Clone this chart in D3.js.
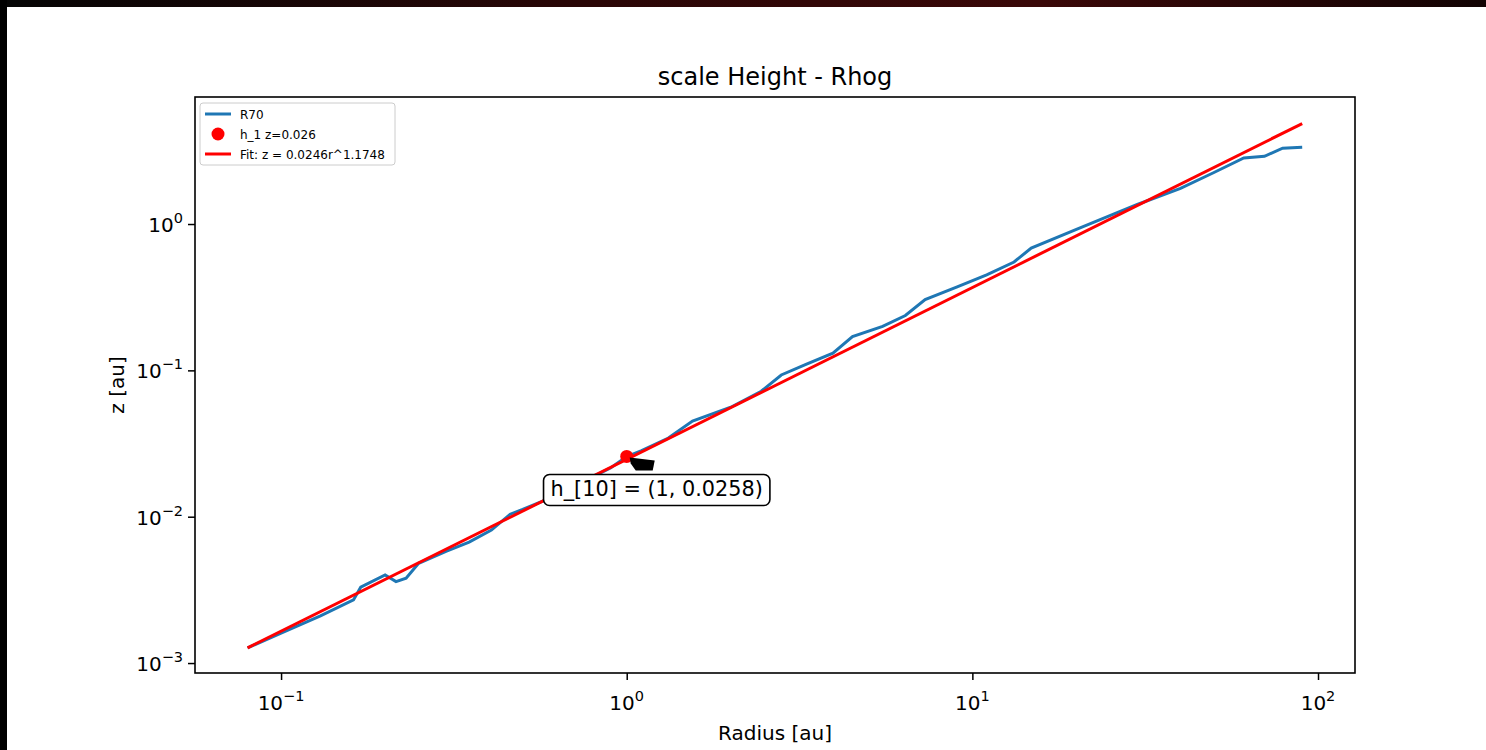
<!DOCTYPE html>
<html>
<head>
<meta charset="utf-8">
<script src="https://cdn.jsdelivr.net/npm/d3@7"></script>
<style>
  body { margin: 0; background: #fff; }
  svg { display: block; }
  text { font-family: "DejaVu Sans", sans-serif; fill: #000; }
</style>
</head>
<body>
<div id="chart"></div>
<script>
// donnees
const radius = [0.08, 0.1, 0.13, 0.162, 0.17, 0.2, 0.215, 0.23, 0.25, 0.3, 0.35, 0.406, 0.46, 0.5, 0.6, 0.7, 0.8, 0.9, 1.0, 1.1, 1.32, 1.55, 2.0, 2.45, 2.8, 3.3, 3.95, 4.5, 5.5, 6.4, 7.3, 9, 11, 13.2, 14.8, 20, 30, 40, 50, 61, 70, 79, 90];
const zR70 = [0.00127, 0.0016, 0.0021, 0.0027, 0.0033, 0.0040, 0.0036, 0.0038, 0.0048, 0.0058, 0.0067, 0.0081, 0.0104, 0.0112, 0.0134, 0.0159, 0.0188, 0.0216, 0.0258, 0.0282, 0.0345, 0.045, 0.056, 0.072, 0.093, 0.11, 0.131, 0.17, 0.2, 0.237, 0.305, 0.37, 0.45, 0.55, 0.685, 0.92, 1.36, 1.75, 2.25, 2.83, 2.9, 3.3, 3.35];
// droite de fit (extremites)
const fitR = [0.08, 90];
const fitZ = [0.00127, 4.86];
// point h_1
const pointR = [1];
const pointZ = [0.0258];
const xTicks = [-1, 0, 1, 2];
const yTicks = [-3, -2, -1, 0];
const legendLabels = ["R70", "h_1 z=0.026", "Fit: z = 0.0246r^1.1748"];

const W = 1486, H = 750;
const margin = {top: 97, right: 131, bottom: 77, left: 195};
const width = W - margin.left - margin.right;
const height = H - margin.top - margin.bottom;
const blue = "#1f77b4", red = "#ff0000";

let svg = d3.select("#chart").append("svg")
    .attr("width", W)
    .attr("height", H);

// cadre sombre (photo d'ecran)
let grad = svg.append("defs").append("linearGradient").attr("id", "topband");
grad.append("stop").attr("offset", "0%").attr("stop-color", "#050505");
grad.append("stop").attr("offset", "40%").attr("stop-color", "#2a0606");
grad.append("stop").attr("offset", "70%").attr("stop-color", "#3a0808");
grad.append("stop").attr("offset", "100%").attr("stop-color", "#120303");
svg.append("rect").attr("x", 0).attr("y", 0).attr("width", W).attr("height", 7).attr("fill", "url(#topband)");
svg.append("rect").attr("x", 0).attr("y", 0).attr("width", 7).attr("height", H).attr("fill", "#000");

let x = d3.scaleLog()
    .domain([Math.pow(10, -1.249), Math.pow(10, 2.107)])
    .range([0, width]);
let y = d3.scaleLog()
    .domain([Math.pow(10, -3.068), Math.pow(10, 0.868)])
    .range([height, 0]);

let g = svg.append("g")
    .attr("transform", "translate(" + margin.left + "," + margin.top + ")");

// ticks mineurs et majeurs
function minorTicks(scale) {
    let dom = scale.domain();
    let out = [];
    for (let e = Math.floor(Math.log10(dom[0])); e <= Math.ceil(Math.log10(dom[1])); e++) {
        for (let k = 2; k <= 9; k++) {
            let v = k * Math.pow(10, e);
            if (v >= dom[0] && v <= dom[1]) out.push(v);
        }
    }
    return out;
}

let axX = g.append("g").attr("transform", "translate(0," + height + ")");
axX.call(d3.axisBottom(x).tickValues(minorTicks(x)).tickSize(4).tickFormat(""));
axX.call(d3.axisBottom(x).tickValues(xTicks.map(d => Math.pow(10, d))).tickSize(7).tickFormat(""));
let axY = g.append("g");
axY.call(d3.axisLeft(y).tickValues(minorTicks(y)).tickSize(4).tickFormat(""));
axY.call(d3.axisLeft(y).tickValues(yTicks.map(d => Math.pow(10, d))).tickSize(7).tickFormat(""));
g.selectAll(".domain").remove();
g.selectAll(".tick line").attr("stroke", "#000").attr("stroke-width", 1.5);

// labels des ticks avec exposant
function expLabel(sel, e) {
    sel.append("tspan").text("10");
    sel.append("tspan").attr("dy", -9).attr("font-size", "14.5px").text(e < 0 ? "\u2212" + (-e) : e);
}
xTicks.forEach(function(e) {
    let t = g.append("text")
        .attr("x", x(Math.pow(10, e)))
        .attr("y", height + 37)
        .attr("text-anchor", "middle")
        .attr("font-size", "20px");
    expLabel(t, e);
});
yTicks.forEach(function(e) {
    let t = g.append("text")
        .attr("x", -12)
        .attr("y", y(Math.pow(10, e)) + 8)
        .attr("text-anchor", "end")
        .attr("font-size", "20px");
    expLabel(t, e);
});

// courbes
let line = d3.line().x(d => x(d[0])).y(d => y(d[1]));
g.append("path")
    .datum(d3.zip(radius, zR70))
    .attr("d", line)
    .attr("fill", "none")
    .attr("stroke", blue)
    .attr("stroke-width", 3);
g.append("path")
    .datum(d3.zip(fitR, fitZ))
    .attr("d", line)
    .attr("fill", "none")
    .attr("stroke", red)
    .attr("stroke-width", 3);
g.selectAll(".pt")
    .data(d3.zip(pointR, pointZ))
    .enter().append("circle")
    .attr("cx", d => x(d[0]))
    .attr("cy", d => y(d[1]))
    .attr("r", 6.5)
    .attr("fill", red);

// annotation
let px = x(pointR[0]), py = y(pointZ[0]);
g.append("path")
    .attr("d", "M" + (px + 3) + "," + (py + 1) + "L" + (px + 28) + "," + (py + 4)
        + "L" + (px + 26) + "," + (py + 14) + "L" + (px + 9) + "," + (py + 14)
        + "L" + (px + 4) + "," + (py + 7) + "Z")
    .attr("fill", "#000");
let boxG = g.append("g");
let annText = boxG.append("text")
    .attr("x", px + 30)
    .attr("y", py + 40)
    .attr("text-anchor", "middle")
    .attr("font-size", "20.8px")
    .text("h_[" + 10 + "] = (" + pointR[0] + ", " + pointZ[0] + ")");
let bb = annText.node().getBBox();
boxG.insert("rect", "text")
    .attr("x", bb.x - 7)
    .attr("y", bb.y - 3)
    .attr("width", bb.width + 14)
    .attr("height", bb.height + 7)
    .attr("rx", 6)
    .attr("fill", "#fff")
    .attr("stroke", "#000")
    .attr("stroke-width", 1.6);

// cadre des axes
g.append("rect")
    .attr("width", width)
    .attr("height", height)
    .attr("fill", "none")
    .attr("stroke", "#000")
    .attr("stroke-width", 1.6);

// legende
let leg = g.append("g").attr("transform", "translate(5,6)");
leg.append("rect")
    .attr("width", 195).attr("height", 62).attr("rx", 3)
    .attr("fill", "#fff").attr("stroke", "#ccc").attr("stroke-width", 1);
legendLabels.forEach(function(lab, i) {
    let cy = 11 + i * 20;
    if (i === 1) {
        leg.append("circle").attr("cx", 18).attr("cy", cy).attr("r", 6.5).attr("fill", red);
    } else {
        leg.append("line").attr("x1", 5).attr("x2", 31).attr("y1", cy).attr("y2", cy)
            .attr("stroke", i === 0 ? blue : red).attr("stroke-width", 3);
    }
    leg.append("text").attr("x", 40).attr("y", cy + 4.5)
        .attr("font-size", "12px").text(lab);
});

// titres
svg.append("text")
    .attr("x", margin.left + width / 2)
    .attr("y", 85)
    .attr("text-anchor", "middle")
    .attr("font-size", "24px")
    .text("scale Height - Rhog");
svg.append("text")
    .attr("x", margin.left + width / 2)
    .attr("y", 740)
    .attr("text-anchor", "middle")
    .attr("font-size", "20px")
    .text("Radius [au]");
svg.append("text")
    .attr("transform", "translate(124," + (margin.top + height / 2) + ") rotate(-90)")
    .attr("text-anchor", "middle")
    .attr("font-size", "20px")
    .text("z [au]");
</script>
</body>
</html>
